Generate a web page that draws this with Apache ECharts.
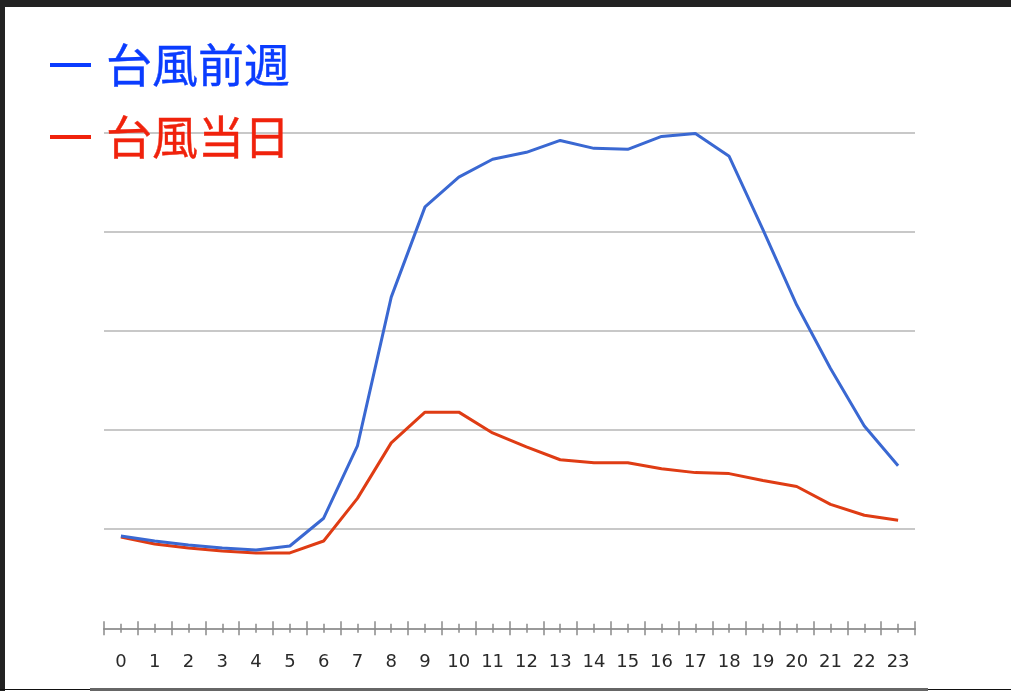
<!DOCTYPE html>
<html>
<head>
<meta charset="utf-8">
<script src="https://cdn.jsdelivr.net/npm/echarts@6/dist/echarts.min.js"></script>
<style>
html,body{margin:0;padding:0;background:#fff;}
#chart{width:1011px;height:691px;}
</style>
</head>
<body>
<div id="chart"></div>
<script>
var hours = ['0','1','2','3','4','5','6','7','8','9','10','11','12','13','14','15','16','17','18','19','20','21','22','23'];
var seriesNames = ['台風前週', '台風当日'];
var beforeWeek = [0.93,0.88,0.84,0.81,0.79,0.83,1.11,1.84,3.34,4.25,4.55,4.73,4.80,4.92,4.84,4.83,4.96,4.99,4.76,4.02,3.26,2.62,2.04,1.64];
var typhoonDay = [0.92,0.85,0.81,0.78,0.76,0.76,0.88,1.31,1.87,2.18,2.18,1.97,1.83,1.70,1.67,1.67,1.61,1.57,1.56,1.49,1.43,1.25,1.14,1.09];

var chart = echarts.init(document.getElementById('chart'), null, {renderer: 'canvas'});

function tickAxis(alignWithLabel, inside, len, showLine, showLabel) {
  return {
    type: 'category',
    data: hours,
    position: 'bottom',
    boundaryGap: true,
    axisLine: {show: showLine, lineStyle: {color: '#9a9a9a', width: 2}},
    axisTick: {show: true, alignWithLabel: alignWithLabel, inside: inside, length: len, interval: 0,
               lineStyle: {color: '#8a8a8a', width: 1.5}},
    axisLabel: {show: showLabel, interval: 0, margin: 25, color: '#2a2a2a',
                fontFamily: 'DejaVu Sans', fontSize: 18},
    splitLine: {show: false}
  };
}

var blueText = '#0a3cff', redText = '#f0220c';

chart.setOption({
  animation: false,
  backgroundColor: '#ffffff',
  grid: {left: 104, right: 96, top: 132.5, bottom: 62.7, containLabel: false},
  legend: {
    orient: 'vertical',
    left: 50,
    top: 40,
    padding: 0,
    icon: 'rect',
    itemWidth: 41,
    itemHeight: 4,
    itemGap: 22,
    selectedMode: false,
    textStyle: {fontFamily: 'Noto Sans CJK JP', fontSize: 46, fontWeight: 'normal', lineHeight: 50, padding: [0, 0, 0, 10]},
    data: [
      {name: seriesNames[0], itemStyle: {color: blueText},
       textStyle: {color: blueText, textBorderColor: blueText, textBorderWidth: 0.4}},
      {name: seriesNames[1], itemStyle: {color: redText},
       textStyle: {color: redText, textBorderColor: redText, textBorderWidth: 0.4}}
    ]
  },
  xAxis: [
    tickAxis(false, false, 7, true, true),
    tickAxis(false, true, 7, false, false),
    tickAxis(true, false, 4.5, false, false),
    tickAxis(true, true, 4.5, false, false)
  ],
  yAxis: {
    type: 'value',
    min: 0,
    max: 5,
    interval: 1,
    axisLine: {show: false},
    axisTick: {show: false},
    axisLabel: {show: false},
    splitLine: {show: true, lineStyle: {color: '#c8c8c8', width: 2}}
  },
  series: [
    {name: seriesNames[0], type: 'line', data: beforeWeek, xAxisIndex: 0, showSymbol: false, symbol: 'none',
     lineStyle: {color: '#3a68d2', width: 3}, itemStyle: {color: '#3a68d2'}, z: 3},
    {name: seriesNames[1], type: 'line', data: typhoonDay, xAxisIndex: 0, showSymbol: false, symbol: 'none',
     lineStyle: {color: '#df3c14', width: 3}, itemStyle: {color: '#df3c14'}, z: 2}
  ],
  graphic: [
    {type: 'rect', shape: {x: 0, y: 0, width: 1011, height: 7}, style: {fill: '#222222'}, silent: true},
    {type: 'rect', shape: {x: 0, y: 0, width: 5, height: 691}, style: {fill: '#222222'}, silent: true},
    {type: 'rect', shape: {x: 0, y: 689, width: 1011, height: 1}, style: {fill: '#111111'}, silent: true},
    {type: 'rect', shape: {x: 90, y: 688, width: 838, height: 3}, style: {fill: '#666666'}, silent: true}
  ]
});
</script>
</body>
</html>
